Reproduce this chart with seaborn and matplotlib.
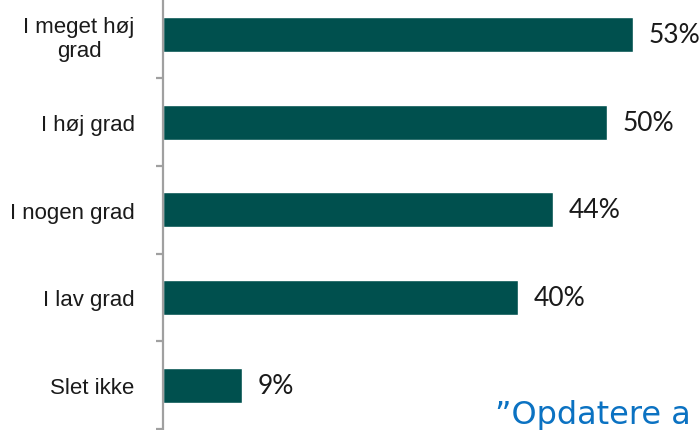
import matplotlib
matplotlib.use("Agg")
import matplotlib.pyplot as plt
import seaborn as sns
import pandas as pd
import numpy as np

categories = ["I meget høj\ngrad", "I høj grad", "I nogen grad", "I lav grad", "Slet ikke"]
values = [53, 50, 44, 40, 9]
value_labels = ["53%", "50%", "44%", "40%", "9%"]
quote_text = "\u201dOpdatere a"

sns.set_theme(style="white")
plt.rcParams["font.family"] = ["Liberation Sans", "DejaVu Sans"]

df = pd.DataFrame({"cat": categories, "val": values})

W, H = 700, 431
fig = plt.figure(figsize=(7, 4.31), dpi=100)
x0 = 162.5
ppu = 8.886
xmax = 60
ax = fig.add_axes([x0 / W, 1.0 / H, xmax * ppu / W, 438.4 / H])

sns.barplot(data=df, x="val", y="cat", orient="h", color="#00504E",
            width=0.4, saturation=1, ax=ax)

ax.set_xlim(0, xmax)
ax.set_ylim(len(categories) - 0.5, -0.5)
ax.set_xlabel("")
ax.set_ylabel("")
ax.xaxis.set_visible(False)
for s in ["top", "right", "bottom"]:
    ax.spines[s].set_visible(False)
ax.spines["left"].set_color("#A0A0A0")
ax.spines["left"].set_linewidth(1.6)

# ticks at category boundaries, labels at centers
ax.set_yticks(np.arange(-0.5, len(categories)), labels=[""] * (len(categories) + 1))
ax.set_yticks(np.arange(len(categories)), labels=categories, minor=True)
ax.tick_params(axis="y", which="major", length=5, width=1.6, color="#A0A0A0",
               direction="out", left=True)
ax.tick_params(axis="y", which="minor", length=0, pad=20, labelsize=16,
               labelcolor="#1a1a1a")
for t in ax.get_yticklabels(minor=True):
    t.set_multialignment("center")

for cont in ax.containers:
    ax.bar_label(cont, labels=value_labels, padding=11, fontsize=19,
                 family=["Lato", "DejaVu Sans"], fontweight="normal",
                 color="#1a1a1a")

fig.text(495 / W, 1 - 424 / H, quote_text, fontsize=23, color="#0B72C2",
         family=["DejaVu Sans"], ha="left", va="baseline")

fig.savefig("out.png", dpi=100)
